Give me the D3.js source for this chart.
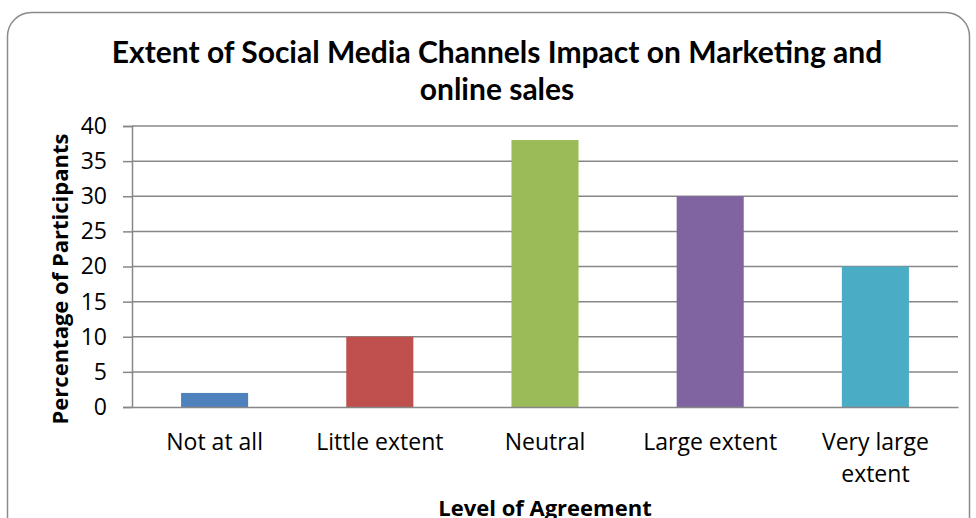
<!DOCTYPE html>
<html><head><meta charset="utf-8">
<script src="https://cdn.jsdelivr.net/npm/d3@7"></script>
<style>body{margin:0;background:#fff}svg{display:block}</style>
</head><body>
<script>
const categories = ["Not at all", "Little extent", "Neutral", "Large extent", "Very large extent"];
const values = [2, 10, 38, 30, 20];
const colors = ["#4F81BD", "#C0504D", "#9BBB59", "#8064A2", "#4BACC6"];
const yTicks = [0, 5, 10, 15, 20, 25, 30, 35, 40];
const titleLines = ["Extent of Social Media Channels Impact on Marketing and", "online sales"];
const xTitle = "Level of Agreement";
const yTitle = "Percentage of Participants";

const W = 976, H = 518;
const svg = d3.select("body").append("svg").attr("width", W).attr("height", H);
svg.append("rect").attr("x", 7.5).attr("y", 12.5).attr("width", 962).attr("height", 540)
  .attr("rx", 24).attr("fill", "#fff").attr("stroke", "#8a8a8a").attr("stroke-width", 1.5);

const m = {left: 132, right: 958, top: 126, bottom: 407};
const x = d3.scaleBand().domain(categories).range([m.left, m.right]).paddingInner(0.594).paddingOuter(0.297);
const y = d3.scaleLinear().domain([0, 40]).range([m.bottom, m.top]);

const tfont = "Lato, 'Open Sans', sans-serif";
const lfont = "'Open Sans', sans-serif";

svg.append("g").selectAll("text").data(titleLines).join("text")
  .attr("x", 497).attr("y", (d, i) => 63 + i * 37)
  .attr("text-anchor", "middle").attr("font-family", tfont).attr("font-weight", "bold")
  .attr("font-size", 30).attr("fill", "#000").text(d => d);

// gridlines
svg.append("g").selectAll("line").data(yTicks.filter(d => d > 0)).join("line")
  .attr("x1", m.left).attr("x2", m.right).attr("y1", d => y(d)).attr("y2", d => y(d))
  .attr("stroke", "#878787").attr("stroke-width", 1.5);

// y axis
const ya = svg.append("g").attr("transform", `translate(${m.left},0)`)
  .call(d3.axisLeft(y).tickValues(yTicks).tickSize(9).tickPadding(16));
ya.select(".domain").attr("stroke", "#878787").attr("stroke-width", 1.5);
ya.selectAll(".tick line").attr("stroke", "#878787").attr("stroke-width", 1.5);
ya.selectAll(".tick text").attr("font-family", lfont).attr("font-size", 23).attr("fill", "#000");

// bars
svg.append("g").selectAll("rect").data(values).join("rect")
  .attr("x", (d, i) => x(categories[i])).attr("width", x.bandwidth())
  .attr("y", d => y(d)).attr("height", d => y(0) - y(d))
  .attr("fill", (d, i) => colors[i]);

// x axis
const xa = svg.append("g").attr("transform", `translate(0,${m.bottom})`)
  .call(d3.axisBottom(x).tickSize(0).tickPadding(0));
xa.select(".domain").attr("stroke", "#878787").attr("stroke-width", 1.5);
xa.selectAll(".tick text").each(function(d) {
  const t = d3.select(this).text(null).attr("font-family", lfont).attr("font-size", 23)
    .attr("fill", "#000").attr("dy", null).attr("y", 43);
  const lines = d === "Very large extent" ? ["Very large", "extent"] : [d];
  lines.forEach((l, i) => t.append("tspan").attr("x", 0).attr("dy", i === 0 ? 0 : 32).text(l));
});

svg.append("text").attr("x", 545).attr("y", 516).attr("text-anchor", "middle")
  .attr("font-family", lfont).attr("font-weight", "bold").attr("font-size", 22).text(xTitle);
svg.append("text").attr("transform", "translate(68,279) rotate(-90)").attr("text-anchor", "middle")
  .attr("font-family", lfont).attr("font-weight", "bold").attr("font-size", 22).text(yTitle);
</script>
</body></html>
